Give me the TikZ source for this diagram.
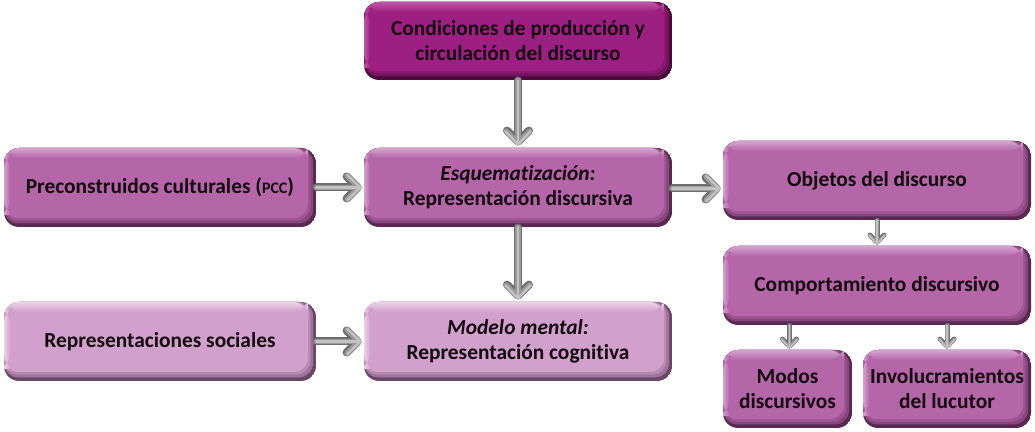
\documentclass[tikz,border=0pt]{standalone}
\usepackage{fontspec}
\setmainfont{Carlito}[Ligatures=NoCommon]
\usetikzlibrary{arrows.meta}
\definecolor{deepM}{HTML}{9E1F82}
\definecolor{deepL}{HTML}{BE58A6}
\definecolor{deepD}{HTML}{4A0A3C}
\definecolor{midM}{HTML}{B466A9}
\definecolor{midL}{HTML}{D5A4CE}
\definecolor{midD}{HTML}{5A2852}
\definecolor{paleM}{HTML}{D1A0CC}
\definecolor{paleL}{HTML}{EBD3E8}
\definecolor{paleD}{HTML}{6C4867}
\definecolor{txt}{HTML}{14060F}
\definecolor{arrD}{HTML}{6E6E6E}
\definecolor{arrM}{HTML}{9A9A9A}
\definecolor{arrL}{HTML}{C2C2C2}
\tikzset{
  pillow/.style n args={3}{
    rounded corners=7.5pt, inner sep=0pt, align=center, text=txt,
    font=\bfseries\fontsize{10.7}{12.5}\selectfont,
    path picture={
      \fill[#3] (path picture bounding box.south west) rectangle (path picture bounding box.north east);
      \fill[#3!50!#1, rounded corners=7pt] (path picture bounding box.north west) rectangle ([shift={(-1.5pt,1.8pt)}]path picture bounding box.south east);
      \fill[#1!75!#3, rounded corners=7pt] (path picture bounding box.north west) rectangle ([shift={(-2.8pt,3.2pt)}]path picture bounding box.south east);
      \fill[#1, rounded corners=7pt] (path picture bounding box.north west) rectangle ([shift={(-4pt,4.5pt)}]path picture bounding box.south east);
      \shade[top color=#2, bottom color=#1] (path picture bounding box.north west) rectangle ([shift={(-4pt,-5pt)}]path picture bounding box.north east);
      \shade[left color=#2, right color=#1] ([shift={(0pt,-3pt)}]path picture bounding box.north west) rectangle ([shift={(3pt,6pt)}]path picture bounding box.south west);
    }
  },
  deepbox/.style={pillow={deepM}{deepL}{deepD}},
  midbox/.style={pillow={midM}{midL}{midD}},
  palebox/.style={pillow={paleM}{paleL}{paleD}},
  bigA/.style={line width=4pt, draw=arrD, line cap=round,
    -{Straight Barb[length=5.5pt,width=11pt,round]}},
  bigB/.style={line width=2.6pt, draw=arrM, line cap=round,
    -{Straight Barb[length=6pt,width=11.8pt,round]}},
  bigC/.style={line width=1.2pt, draw=arrL, line cap=round,
    -{Straight Barb[length=6.5pt,width=12.5pt,round]}},
  smallA/.style={line width=2.5pt, draw=arrD, line cap=round,
    -{Straight Barb[length=3.5pt,width=7pt,round]}},
  smallB/.style={line width=1.6pt, draw=arrM, line cap=round,
    -{Straight Barb[length=3.9pt,width=7.5pt,round]}},
  smallC/.style={line width=0.7pt, draw=arrL, line cap=round,
    -{Straight Barb[length=4.3pt,width=8pt,round]}},
}
\begin{document}
\begin{tikzpicture}[x=0.5pt,y=-0.5pt]
\useasboundingbox (0,0) rectangle (1035,432);
\node[deepbox, minimum width=154pt, minimum height=39pt] (cond) at (518,41)
  {Condiciones de producción y\\circulación del discurso};
\node[midbox, minimum width=154pt, minimum height=39.5pt] (esq) at (518,187.5)
  {\textit{Esquematización:}\\Representación discursiva};
\node[midbox, minimum width=156pt, minimum height=39.5pt] (pre) at (160,187.5)
  {Preconstruidos culturales ({\fontsize{8}{9}\selectfont PCC})};
\node[palebox, minimum width=156pt, minimum height=39.5pt] (rep) at (160,341.5)
  {Representaciones sociales};
\node[palebox, minimum width=154pt, minimum height=39.5pt] (mod) at (518,341.5)
  {\textit{Modelo mental:}\\Representación cognitiva};
\node[midbox, minimum width=154pt, minimum height=39.5pt] (obj) at (877,180.5)
  {Objetos del discurso};
\node[midbox, minimum width=154pt, minimum height=39.5pt] (comp) at (877,285.5)
  {Comportamiento discursivo};
\node[midbox, minimum width=64.5pt, minimum height=39pt] (modos) at (787.5,389)
  {Modos\\discursivos};
\node[midbox, minimum width=84pt, minimum height=39pt] (inv) at (947,389)
  {Involucramientos\\del lucutor};
% big arrows
\foreach \s in {bigA,bigB,bigC}{
  \draw[\s, shorten >=1pt] (cond.south) -- (esq.north);
  \draw[\s, shorten >=1pt] (esq.south) -- (mod.north);
  \draw[\s, shorten >=1pt] (pre.east) -- (esq.west);
  \draw[\s, shorten >=1pt] (rep.east) -- (mod.west);
  \draw[\s, shorten >=1pt] ([yshift=-0.5pt]esq.east) -- ([yshift=-0.5pt]esq.east -| obj.west);
}
\foreach \s in {smallA,smallB,smallC}{
  \draw[\s, shorten >=0.5pt] (obj.south) -- (comp.north);
  \draw[\s, shorten >=0.5pt] ([xshift=1pt]modos.north |- comp.south) -- ([xshift=1pt]modos.north);
  \draw[\s, shorten >=0.5pt] (inv.north |- comp.south) -- (inv.north);
}
\end{tikzpicture}
\end{document}
